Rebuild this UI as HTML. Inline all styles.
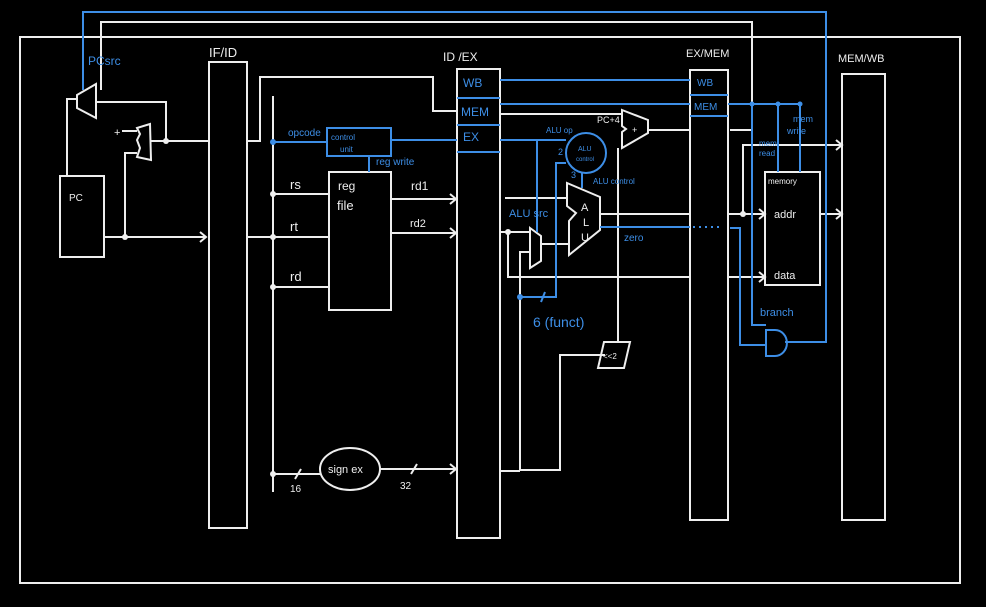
<!DOCTYPE html>
<html><head><meta charset="utf-8"><style>
html,body{margin:0;padding:0;background:#000;}
svg{display:block;}
text{font-family:"Liberation Sans",sans-serif;}
</style></head><body>
<svg width="986" height="607" viewBox="0 0 986 607" xmlns="http://www.w3.org/2000/svg">
<rect width="986" height="607" fill="#000"/>
<g fill="none" stroke="#eee" stroke-width="2">
<rect x="20" y="37" width="940" height="546"/>
<polyline points="101,90 101,22 752,22 752,130 730,130"/>
<rect x="60" y="176" width="44" height="81"/>
<polygon points="77,95 96,84 96,118 77,108"/>
<polyline points="67,176 67,99 77,99"/>
<polyline points="97,102 166,102 166,141"/>
<polygon points="137,128 150,124 151,160 137,157 140,148 137,140 140,134"/>
<line x1="122" y1="131" x2="137" y2="131"/>
<line x1="150" y1="141" x2="209" y2="141"/>
<polyline points="125,237 125,153 137,153"/>
<line x1="104" y1="237" x2="206" y2="237"/>
<polyline points="200,232 206,237 200,242"/>
<rect x="209" y="62" width="38" height="466"/>
<rect x="457" y="69" width="43" height="469"/>
<rect x="690" y="70" width="38" height="450"/>
<rect x="842" y="74" width="43" height="446"/>
<polyline points="247,141 260,141 260,77 433,77 433,111 457,111"/>
<line x1="273" y1="96" x2="273" y2="492"/>
<line x1="247" y1="237" x2="329" y2="237"/>
<line x1="273" y1="194" x2="329" y2="194"/>
<line x1="273" y1="287" x2="329" y2="287"/>
<rect x="329" y="172" width="62" height="138"/>
<line x1="391" y1="199" x2="456" y2="199"/><polyline points="450,194 456,199 450,204"/>
<line x1="391" y1="233" x2="456" y2="233"/><polyline points="450,228 456,233 450,238"/>
<line x1="273" y1="474" x2="320" y2="474"/>
<line x1="295" y1="479" x2="301" y2="469"/>
<ellipse cx="350" cy="469" rx="30" ry="21"/>
<line x1="380" y1="469" x2="456" y2="469"/><polyline points="450,464 456,469 450,474"/>
<line x1="411" y1="474" x2="417" y2="464"/>
<line x1="500" y1="114" x2="622" y2="114"/>
<polygon points="622,110 648,120 648,133 622,148 622,132 626,129 622,126"/>
<line x1="648" y1="130" x2="690" y2="130"/>
<line x1="505" y1="198" x2="567" y2="198"/>
<polygon points="567,183 600,197 600,230 569,255 569,221 576,213 567,206"/>
<line x1="500" y1="232" x2="530" y2="232"/>
<polyline points="508,232 508,277 690,277"/>
<polygon points="530,228 541,236 541,261 530,268"/>
<line x1="541" y1="244" x2="569" y2="244"/>
<polyline points="530,252 520,252 520,470 560,470 560,355 605,355"/>
<line x1="500" y1="471" x2="520" y2="471"/>
<polygon points="604,342 630,342 624,368 598,368"/>
<line x1="618" y1="342" x2="618" y2="148"/>
<line x1="600" y1="214" x2="690" y2="214"/>
<line x1="728" y1="214" x2="765" y2="214"/><polyline points="759,209 765,214 759,219"/>
<polyline points="743,214 743,145 842,145"/><polyline points="836,140 842,145 836,150"/>
<line x1="728" y1="277" x2="765" y2="277"/><polyline points="759,272 765,277 759,282"/>
<rect x="765" y="172" width="55" height="113"/>
<line x1="820" y1="214" x2="842" y2="214"/><polyline points="836,209 842,214 836,219"/>
</g>
<g fill="#eee">
<circle cx="166" cy="141" r="3"/><circle cx="125" cy="237" r="3"/>
<circle cx="273" cy="194" r="3"/><circle cx="273" cy="237" r="3"/><circle cx="273" cy="287" r="3"/><circle cx="273" cy="474" r="3"/>
<circle cx="508" cy="232" r="3"/><circle cx="743" cy="214" r="3"/>
<text x="209" y="57" font-size="13">IF/ID</text>
<text x="443" y="61" font-size="12">ID /EX</text>
<text x="686" y="57" font-size="11">EX/MEM</text>
<text x="838" y="62" font-size="11">MEM/WB</text>
<text x="69" y="201" font-size="10">PC</text>
<text x="114" y="136" font-size="11">+</text>
<text x="290" y="189" font-size="13">rs</text>
<text x="290" y="231" font-size="13">rt</text>
<text x="290" y="281" font-size="13">rd</text>
<text x="338" y="190" font-size="12">reg</text>
<text x="337" y="210" font-size="13">file</text>
<text x="411" y="190" font-size="12">rd1</text>
<text x="410" y="227" font-size="11">rd2</text>
<text x="328" y="473" font-size="11">sign ex</text>
<text x="290" y="492" font-size="10">16</text>
<text x="400" y="489" font-size="10">32</text>
<text x="597" y="123" font-size="9">PC+4</text>
<text x="632" y="133" font-size="9">+</text>
<text x="581" y="211" font-size="11">A</text>
<text x="583" y="226" font-size="11">L</text>
<text x="581" y="241" font-size="11">U</text>
<text x="603" y="359" font-size="8">&lt;&lt;2</text>
<text x="768" y="184" font-size="8">memory</text>
<text x="774" y="218" font-size="11">addr</text>
<text x="774" y="279" font-size="11">data</text>
</g>
<g fill="none" stroke="#3d8ee6" stroke-width="2">
<polyline points="83,90 83,12 826,12 826,342 785,342"/>
<line x1="273" y1="142" x2="327" y2="142"/>
<rect x="327" y="128" width="64" height="28"/>
<line x1="391" y1="140" x2="457" y2="140"/>
<line x1="369" y1="156" x2="369" y2="172"/>
<line x1="457" y1="98" x2="500" y2="98"/>
<line x1="457" y1="125" x2="500" y2="125"/>
<line x1="457" y1="152" x2="500" y2="152"/>
<line x1="690" y1="95" x2="728" y2="95"/>
<line x1="690" y1="116" x2="728" y2="116"/>
<line x1="500" y1="80" x2="690" y2="80"/>
<line x1="500" y1="104" x2="690" y2="104"/>
<line x1="500" y1="140" x2="566" y2="140"/>
<circle cx="586" cy="153" r="20"/>
<polyline points="537,140 537,232"/>
<polyline points="520,297 556,297 556,163 566,163"/>
<line x1="541" y1="302" x2="545" y2="292"/>
<line x1="582" y1="173" x2="582" y2="188"/>
<line x1="600" y1="227" x2="690" y2="227"/>
<line x1="693" y1="227" x2="720" y2="227" stroke-dasharray="2,4"/>
<polyline points="730,228 740,228 740,345 766,345"/>
<polyline points="728,104 800,104 800,172"/>
<polyline points="752,104 752,325 766,325"/>
<line x1="778" y1="104" x2="778" y2="172"/>
<path d="M766,330 L775,330 A11,12 0 0 1 775,356 L766,356 Z"/>
</g>
<g fill="#3d8ee6">
<circle cx="273" cy="142" r="3"/><circle cx="520" cy="297" r="3"/>
<circle cx="752" cy="104" r="2.5"/><circle cx="778" cy="104" r="2.5"/><circle cx="800" cy="104" r="2.5"/>
<text x="88" y="65" font-size="12">PCsrc</text>
<text x="288" y="136" font-size="10">opcode</text>
<text x="331" y="140" font-size="8">control</text>
<text x="340" y="152" font-size="8">unit</text>
<text x="376" y="165" font-size="10">reg write</text>
<text x="463" y="87" font-size="12">WB</text>
<text x="461" y="116" font-size="12">MEM</text>
<text x="463" y="141" font-size="12">EX</text>
<text x="697" y="86" font-size="10">WB</text>
<text x="694" y="110" font-size="10">MEM</text>
<text x="546" y="133" font-size="8">ALU op</text>
<text x="558" y="155" font-size="9">2</text>
<text x="578" y="151" font-size="7">ALU</text>
<text x="576" y="161" font-size="6">control</text>
<text x="571" y="178" font-size="9">3</text>
<text x="593" y="184" font-size="8">ALU control</text>
<text x="509" y="217" font-size="11">ALU src</text>
<text x="624" y="241" font-size="10">zero</text>
<text x="533" y="327" font-size="14">6 (funct)</text>
<text x="759" y="146" font-size="8">mem</text>
<text x="759" y="156" font-size="8">read</text>
<text x="793" y="122" font-size="9">mem</text>
<text x="787" y="134" font-size="9">write</text>
<text x="760" y="316" font-size="11">branch</text>
</g>
</svg>
</body></html>
